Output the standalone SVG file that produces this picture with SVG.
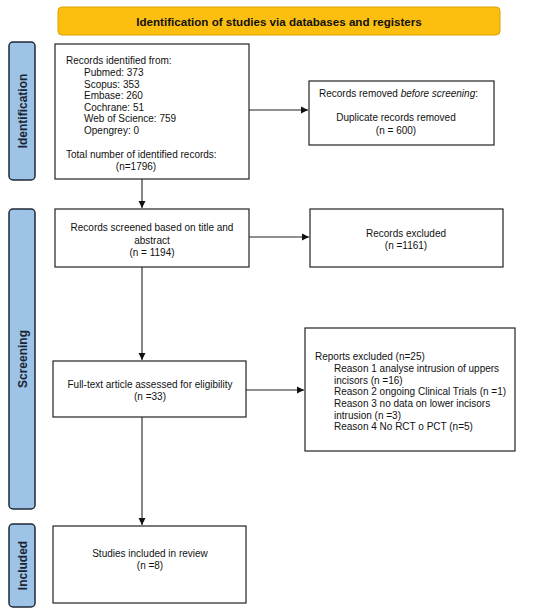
<svg xmlns="http://www.w3.org/2000/svg" width="550" height="611" viewBox="0 0 550 611">
<style>
.box{fill:#fff;stroke:#222;stroke-width:1.2}
.side{fill:#9dc3e6;stroke:#1e2a38;stroke-width:1.5}
.hdr{fill:#fdbf0f;stroke:#d9a300;stroke-width:1}
text{font-family:"Liberation Sans",Arial,sans-serif;font-size:10px;fill:#111}
.b{font-weight:bold}
.sl{font-weight:bold;font-size:12px;fill:#1a2533}
.c{text-anchor:middle}
.ln{stroke:#222;stroke-width:1.1;fill:none}
</style>
<defs>
<marker id="ah" markerWidth="8" markerHeight="8" refX="7" refY="4" orient="auto" markerUnits="userSpaceOnUse">
<path d="M0,0.5 L7,4 L0,7.5 Z" fill="#111"/>
</marker>
</defs>
<g id="header">
<rect class="hdr" x="58" y="7" width="442" height="28" rx="4"/>
<text class="b c" x="279" y="26" style="font-size:11.6px">Identification of studies via databases and registers</text>
</g>
<g id="side-identification">
<rect class="side" x="9" y="42" width="26" height="138" rx="4"/>
<text class="sl c" transform="translate(27,111) rotate(-90)">Identification</text>
</g>
<g id="side-screening">
<rect class="side" x="9" y="209" width="26" height="300" rx="4"/>
<text class="sl c" transform="translate(27,359) rotate(-90)">Screening</text>
</g>
<g id="side-included">
<rect class="side" x="9" y="524" width="26" height="83" rx="4"/>
<text class="sl c" transform="translate(27,565.5) rotate(-90)">Included</text>
</g>
<g id="identified">
<rect class="box" x="55" y="44" width="194" height="135"/>
<text x="66" y="64">Records identified from:</text>
<text x="84" y="75.5">Pubmed: 373</text>
<text x="84" y="87.5">Scopus: 353</text>
<text x="84" y="99">Embase: 260</text>
<text x="84" y="110.5">Cochrane: 51</text>
<text x="84" y="122">Web of Science: 759</text>
<text x="84" y="134">Opengrey: 0</text>
<text x="66" y="158">Total number of identified records:</text>
<text class="c" x="136" y="170">(n=1796)</text>
</g>
<g id="removed">
<rect class="box" x="309" y="81" width="185" height="64"/>
<text x="319" y="97">Records removed <tspan font-style="italic">before screening</tspan>:</text>
<text class="c" x="396" y="121">Duplicate records removed</text>
<text class="c" x="396" y="134">(n = 600)</text>
</g>
<g id="screened">
<rect class="box" x="55" y="209" width="194" height="58"/>
<text class="c" x="152" y="231">Records screened based on title and</text>
<text class="c" x="152" y="243.5">abstract</text>
<text class="c" x="152" y="256">(n = 1194)</text>
</g>
<g id="excluded">
<rect class="box" x="310" y="209" width="193" height="58"/>
<text class="c" x="406" y="237">Records excluded</text>
<text class="c" x="406" y="249">(n =1161)</text>
</g>
<g id="fulltext">
<rect class="box" x="53" y="361" width="193" height="56"/>
<text class="c" x="150" y="388">Full-text article assessed for eligibility</text>
<text class="c" x="150" y="400">(n =33)</text>
</g>
<g id="reports-excluded">
<rect class="box" x="305" y="328" width="210" height="123"/>
<text x="315" y="360">Reports excluded (n=25)</text>
<text x="334" y="372">Reason 1 analyse intrusion of uppers</text>
<text x="334" y="383.5">incisors (n =16)</text>
<text x="334" y="395">Reason 2 ongoing Clinical Trials (n =1)</text>
<text x="334" y="407">Reason 3 no data on lower incisors</text>
<text x="334" y="418.5">intrusion (n =3)</text>
<text x="334" y="430">Reason 4 No RCT o PCT (n=5)</text>
</g>
<g id="included">
<rect class="box" x="53" y="526" width="193" height="77"/>
<text class="c" x="150" y="557">Studies included in review</text>
<text class="c" x="150" y="569">(n =8)</text>
</g>
<g id="connectors">
<line class="ln" x1="249" y1="110" x2="308" y2="110" marker-end="url(#ah)"/>
<line class="ln" x1="142" y1="179" x2="142" y2="208" marker-end="url(#ah)"/>
<line class="ln" x1="249" y1="237" x2="309" y2="237" marker-end="url(#ah)"/>
<line class="ln" x1="142" y1="267" x2="142" y2="360" marker-end="url(#ah)"/>
<line class="ln" x1="246" y1="390" x2="304" y2="390" marker-end="url(#ah)"/>
<line class="ln" x1="142" y1="417" x2="142" y2="525" marker-end="url(#ah)"/>
</g>
</svg>
